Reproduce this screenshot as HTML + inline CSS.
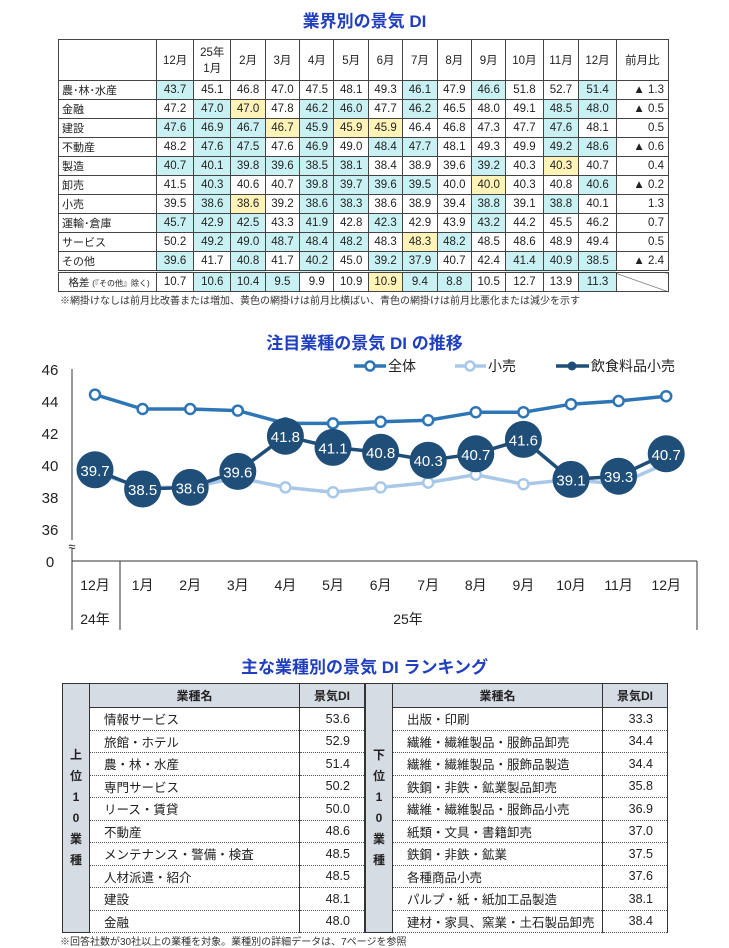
<!DOCTYPE html>
<html><head><meta charset="utf-8">
<style>
body{margin:0;width:729px;height:946px;background:#fff;position:relative;overflow:hidden;font-family:"Liberation Sans","Noto Sans CJK JP",sans-serif;color:#222}
.title{position:absolute;left:0;width:729px;text-align:center;font-weight:bold;font-size:17px;color:#1f3fbf}
table{border-collapse:collapse;position:absolute}
#dtab td{border:1px solid #444;font-size:11.5px;text-align:center;height:18px;padding:0}
#dtab td.lab{text-align:left;padding-left:3px;font-size:11px}
#dtab .b{background:#c9f1f3}
#dtab .y{background:#fff3b8}
#dtab tr.gap td{border-top:3px double #444}
.note{position:absolute;font-size:10px;color:#333}
.rk td{font-size:12.5px;height:21.5px;padding:0;border-left:1px solid #333;border-right:1px solid #333;border-bottom:1px dotted #555}
.rk th{background:#d6dce4;font-size:12px;height:21px;border:1px solid #333}
.rk td.side{background:#d6dce4;width:26px;text-align:center;font-weight:bold;font-size:12px;line-height:21px;border-bottom:1px solid #333}
.rk td.nm{padding-left:14px}
.rk td.v{text-align:right;padding-right:14px}
</style></head><body>
<div class="title" style="top:7px">業界別の景気 DI</div>
<table id="dtab" style="left:58px;top:39px;width:611px"></table>
<div class="note" style="left:60px;top:292px">※網掛けなしは前月比改善または増加、黄色の網掛けは前月比横ばい、青色の網掛けは前月比悪化または減少を示す</div>

<div class="title" style="top:329px">注目業種の景気 DI の推移</div>
<svg id="chart" style="position:absolute;left:0;top:0" width="729" height="660"></svg>

<div class="title" style="top:653px">主な業種別の景気 DI ランキング</div>
<table class="rk" style="left:62px;top:683px;width:303px">
<tbody id="top"></tbody></table>
<table class="rk" style="left:365px;top:683px;width:303px">
<tbody id="bot"></tbody></table>
<div class="note" style="left:60px;top:933px">※回答社数が30社以上の業種を対象。業種別の詳細データは、7ページを参照</div>

<script>
const heads=["12月","25年<br>1月","2月","3月","4月","5月","6月","7月","8月","9月","10月","11月","12月","前月比"];
const rowNames=["農･林･水産","金融","建設","不動産","製造","卸売","小売","運輸･倉庫","サービス","その他"];
const rowVals=[
[43.7,45.1,46.8,47.0,47.5,48.1,49.3,46.1,47.9,46.6,51.8,52.7,51.4],
[47.2,47.0,47.0,47.8,46.2,46.0,47.7,46.2,46.5,48.0,49.1,48.5,48.0],
[47.6,46.9,46.7,46.7,45.9,45.9,45.9,46.4,46.8,47.3,47.7,47.6,48.1],
[48.2,47.6,47.5,47.6,46.9,49.0,48.4,47.7,48.1,49.3,49.9,49.2,48.6],
[40.7,40.1,39.8,39.6,38.5,38.1,38.4,38.9,39.6,39.2,40.3,40.3,40.7],
[41.5,40.3,40.6,40.7,39.8,39.7,39.6,39.5,40.0,40.0,40.3,40.8,40.6],
[39.5,38.6,38.6,39.2,38.6,38.3,38.6,38.9,39.4,38.8,39.1,38.8,40.1],
[45.7,42.9,42.5,43.3,41.9,42.8,42.3,42.9,43.9,43.2,44.2,45.5,46.2],
[50.2,49.2,49.0,48.7,48.4,48.2,48.3,48.3,48.2,48.5,48.6,48.9,49.4],
[39.6,41.7,40.8,41.7,40.2,45.0,39.2,37.9,40.7,42.4,41.4,40.9,38.5]];
const firstShade=["b","","b","","b","","","b","","b"];
const changes=["▲ 1.3","▲ 0.5","0.5","▲ 0.6","0.4","▲ 0.2","1.3","0.7","0.5","▲ 2.4"];
const gapVals=[10.7,10.6,10.4,9.5,9.9,10.9,10.9,9.4,8.8,10.5,12.7,13.9,11.3];
const gapShade=["","b","b","b","","","y","b","b","","","","b"];
function shade(arr,i,first){if(i===0)return first;return arr[i]<arr[i-1]?"b":arr[i]===arr[i-1]?"y":"";}
const tb=document.getElementById('dtab');
let h='<tr style="height:41px"><td></td>';
heads.forEach(x=>h+='<td>'+x+'</td>');
h+='</tr>';
rowNames.forEach((n,r)=>{
 h+='<tr><td class="lab" style="width:94px">'+n+'</td>';
 rowVals[r].forEach((v,i)=>{h+='<td class="'+shade(rowVals[r],i,firstShade[r])+'">'+v.toFixed(1)+'</td>';});
 h+='<td style="text-align:right;padding-right:4px">'+changes[r]+'</td></tr>';
});
h+='<tr class="gap"><td class="lab" style="font-size:10.5px;text-align:center">格差 <span style="font-size:8px">(『その他』除く)</span></td>';
gapVals.forEach((v,i)=>h+='<td class="'+gapShade[i]+'">'+v.toFixed(1)+'</td>');
h+='<td style="background:linear-gradient(to top right,#fff 48%,#666 50%,#fff 52%)"></td></tr>';
tb.innerHTML=h;

const months=["12月","1月","2月","3月","4月","5月","6月","7月","8月","9月","10月","11月","12月"];
const yTicks=[46,44,42,40,38,36];
const allInd=[44.4,43.5,43.5,43.4,42.6,42.6,42.7,42.8,43.3,43.3,43.8,44.0,44.3];
const retail=[39.5,38.6,38.6,39.2,38.6,38.3,38.6,38.9,39.4,38.8,39.1,38.8,40.1];
const foodRetail=[39.7,38.5,38.6,39.6,41.8,41.1,40.8,40.3,40.7,41.6,39.1,39.3,40.7];
const NS='http://www.w3.org/2000/svg';
const svg=document.getElementById('chart');
function yS(v){return 369+(46-v)*16;}
function xS(i){return 95+i*47.6;}
function mk(t,a,name){const e=document.createElementNS(NS,t);for(const k in a)e.setAttribute(k,a[k]);
 
 
 svg.appendChild(e);return e;}
yTicks.forEach(t=>{const e=mk('text',{x:50,y:yS(t)+6,'text-anchor':'middle','font-size':15,fill:'#222'},'y-tick-label');e.textContent=t;});
{const e=mk('text',{x:50,y:567,'text-anchor':'middle','font-size':15,fill:'#222'},'y-tick-label');e.textContent='0';}
mk('line',{x1:72,y1:369,x2:72,y2:630,stroke:'#333','stroke-width':1},'y-axis');
mk('rect',{x:66,y:540,width:12,height:8,fill:'#fff'},'axis-break-bg');
{const e=mk('text',{x:72,y:551,'text-anchor':'middle','font-size':13,fill:'#222'},'axis-break');e.textContent='≈';}
mk('line',{x1:72,y1:561,x2:697,y2:561,stroke:'#333','stroke-width':1},'x-axis');
mk('line',{x1:120,y1:561,x2:120,y2:630,stroke:'#333','stroke-width':1},'year-divider');
mk('line',{x1:697,y1:561,x2:697,y2:630,stroke:'#333','stroke-width':1},'x-axis-right-edge');
months.forEach((m,i)=>{const e=mk('text',{x:xS(i),y:590,'text-anchor':'middle','font-size':14,fill:'#222'},'x-tick-label');e.textContent=m;});
{const e=mk('text',{x:xS(0),y:624,'text-anchor':'middle','font-size':14,fill:'#222'},'year-label-24');e.textContent='24年';}
{const e=mk('text',{x:408,y:624,'text-anchor':'middle','font-size':14,fill:'#222'},'year-label-25');e.textContent='25年';}
function series(vals,color,name){
 mk('polyline',{points:vals.map((v,i)=>xS(i)+','+yS(v)).join(' '),fill:'none',stroke:color,'stroke-width':3.5},name+'-line');
}
series(allInd,'#2e75b6','all-industries');
allInd.forEach((v,i)=>mk('circle',{cx:xS(i),cy:yS(v),r:5,fill:'#fff',stroke:'#2e75b6','stroke-width':2.5},'all-industries-point'));
series(retail,'#a9c8e8','retail');
retail.forEach((v,i)=>mk('circle',{cx:xS(i),cy:yS(v),r:5,fill:'#fff',stroke:'#a9c8e8','stroke-width':2.5},'retail-point'));
series(foodRetail,'#1f4e79','food-retail');
foodRetail.forEach((v,i)=>{mk('circle',{cx:xS(i),cy:yS(v),r:18.5,fill:'#1f4e79'},'food-retail-point');
 const t=mk('text',{x:xS(i),y:yS(v)+6,'text-anchor':'middle','font-size':15,fill:'#fff'},'food-retail-label');t.textContent=v.toFixed(1);});
mk('line',{x1:354,y1:366,x2:386,y2:366,stroke:'#2e75b6','stroke-width':3.5},'legend-all-line');
mk('circle',{cx:370,cy:366,r:4.5,fill:'#fff',stroke:'#2e75b6','stroke-width':2.5},'legend-all-marker');
{const e=mk('text',{x:388,y:371,'font-size':14,fill:'#222'},'legend-all-text');e.textContent='全体';}
mk('line',{x1:455,y1:366,x2:486,y2:366,stroke:'#a9c8e8','stroke-width':3.5},'legend-retail-line');
mk('circle',{cx:470,cy:366,r:4.5,fill:'#fff',stroke:'#a9c8e8','stroke-width':2.5},'legend-retail-marker');
{const e=mk('text',{x:488,y:371,'font-size':14,fill:'#222'},'legend-retail-text');e.textContent='小売';}
mk('line',{x1:556,y1:366,x2:589,y2:366,stroke:'#1f4e79','stroke-width':3.5},'legend-food-line');
mk('circle',{cx:572,cy:366,r:4.5,fill:'#1f4e79'},'legend-food-marker');
{const e=mk('text',{x:591,y:371,'font-size':14,fill:'#222'},'legend-food-text');e.textContent='飲食料品小売';}

const topNames=["情報サービス","旅館・ホテル","農・林・水産","専門サービス","リース・賃貸","不動産","メンテナンス・警備・検査","人材派遣・紹介","建設","金融"];
const topVals=[53.6,52.9,51.4,50.2,50.0,48.6,48.5,48.5,48.1,48.0];
const botNames=["出版・印刷","繊維・繊維製品・服飾品卸売","繊維・繊維製品・服飾品製造","鉄鋼・非鉄・鉱業製品卸売","繊維・繊維製品・服飾品小売","紙類・文具・書籍卸売","鉄鋼・非鉄・鉱業","各種商品小売","パルプ・紙・紙加工品製造","建材・家具、窯業・土石製品卸売"];
const botVals=[33.3,34.4,34.4,35.8,36.9,37.0,37.5,37.6,38.1,38.4];
function rank(id,names,vals,side){
 let s='<tr><td class="side" rowspan="11" style="vertical-align:middle;border-top:1px solid #333">'+side.split('').join('<br>')+'</td><th>業種名</th><th style="width:62px">景気DI</th></tr>';
 names.forEach((n,i)=>s+='<tr><td class="nm">'+n+'</td><td class="v">'+vals[i].toFixed(1)+'</td></tr>');
 document.getElementById(id).innerHTML=s;
}
rank('top',topNames,topVals,'上位10業種');
rank('bot',botNames,botVals,'下位10業種');
</script>
</body></html>
